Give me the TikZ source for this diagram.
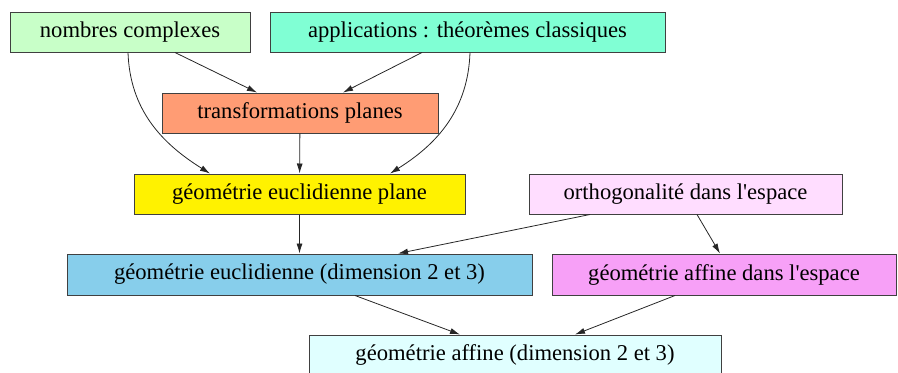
\documentclass[tikz,border=0pt]{standalone}
\usepackage{fontspec}
\setmainfont{Liberation Serif}
\usetikzlibrary{shapes,arrows.meta,positioning}

\definecolor{vertpale}{HTML}{C8FFC8}
\definecolor{aigue}{HTML}{80FFD4}
\definecolor{saumon}{HTML}{FF9C74}
\definecolor{rosepale}{HTML}{FFDDFF}
\definecolor{bleuciel}{HTML}{87CEEB}
\definecolor{violette}{HTML}{F7A0F7}
\definecolor{cyanpale}{HTML}{E0FFFF}

\tikzset{
  chapitre/.style={draw=black!75, line width=0.5pt, rectangle, minimum height=20pt,
    inner sep=0pt, font=\fontsize{11.3}{13}\selectfont},
  lien/.style={-{Latex[length=5pt,width=3pt]}, line width=0.4pt, black!85}
}

\begin{document}
\begin{tikzpicture}[x=0.5pt,y=0.5pt]
\useasboundingbox (0,0) rectangle (898,372);

\node[chapitre, fill=vertpale, minimum width=120pt] (nc) at (130,340) {nombres complexes};
\node[chapitre, fill=aigue, minimum width=197.5pt] (app) at (467.5,340) {applications : théorèmes classiques};
\node[chapitre, fill=saumon, minimum width=138pt] (tp) at (300,259) {transformations planes};
\node[chapitre, fill=yellow, minimum width=165.5pt] (gep) at (299.5,178) {géométrie euclidienne plane};
\node[chapitre, fill=rosepale, minimum width=156.5pt] (orth) at (685.5,178) {orthogonalité dans l\textquotesingle espace};
\node[chapitre, fill=bleuciel, minimum width=232.5pt, minimum height=20.5pt] (ged) at (299.5,97.5) {géométrie euclidienne (dimension 2 et 3)};
\node[chapitre, fill=violette, minimum width=172pt, minimum height=20.5pt] (gae) at (724,97.5) {géométrie affine dans l\textquotesingle espace};
\node[chapitre, fill=cyanpale, minimum width=206pt] (gad) at (515,17) {géométrie affine (dimension 2 et 3)};

% liens
\draw[lien] ([xshift=22.5pt]nc.south) -- ([xshift=-21.5pt]tp.north);
\draw[lien] ([xshift=-22.75pt]app.south) -- ([xshift=21.5pt]tp.north);
\draw[lien] ([xshift=-1pt]nc.south) to[out=-88,in=148] ([xshift=-44.75pt]gep.north);
\draw[lien] ([xshift=1.25pt]app.south) to[out=-92,in=32] ([xshift=45.25pt]gep.north);
\draw[lien] (tp) -- (gep);
\draw[lien] (gep) -- (ged);
\draw[lien] ([xshift=-47.75pt]orth.south) -- ([xshift=49.25pt]ged.north);
\draw[lien] ([xshift=5.75pt]orth.south) -- ([xshift=-2pt]gae.north);
\draw[lien] ([xshift=27.75pt]ged.south) -- ([xshift=-27.5pt]gad.north);
\draw[lien] ([xshift=-24.5pt]gae.south) -- ([xshift=30pt]gad.north);
\end{tikzpicture}
\end{document}
